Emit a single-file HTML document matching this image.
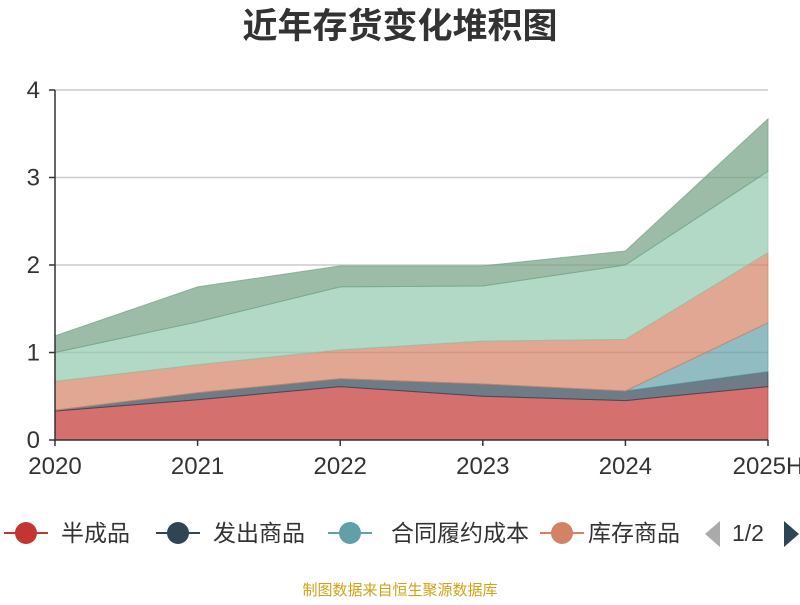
<!DOCTYPE html>
<html><head><meta charset="utf-8">
<style>
body{margin:0;background:#fff;width:800px;height:600px;overflow:hidden;font-family:"Liberation Sans","Noto Sans CJK SC",sans-serif;}
</style></head>
<body>
<svg id="chart" width="800" height="600" xmlns="http://www.w3.org/2000/svg" font-family="Liberation Sans, Noto Sans CJK SC, sans-serif">
<text x="400" y="38" text-anchor="middle" font-size="35" font-weight="bold" fill="#333">近年存货变化堆积图</text>
<text transform="translate(-4,115) rotate(-90)" text-anchor="middle" font-size="16" fill="#e53935">亿元</text>
<g id="grid"></g>
<g id="areas"></g>
<g id="axes"></g>
<g font-size="23" fill="#333">
  <g><line x1="4" y1="533" x2="48" y2="533" stroke="#c23531" stroke-width="2"/><circle cx="26" cy="533" r="11" fill="#c23531"/><text x="61" y="541">半成品</text></g>
  <g><line x1="156" y1="533" x2="200" y2="533" stroke="#2f4554" stroke-width="2"/><circle cx="178" cy="533" r="11" fill="#2f4554"/><text x="213" y="541">发出商品</text></g>
  <g><line x1="328" y1="533" x2="372" y2="533" stroke="#61a0a8" stroke-width="2"/><circle cx="350" cy="533" r="11" fill="#61a0a8"/><text x="391" y="541">合同履约成本</text></g>
  <g><line x1="540" y1="533" x2="584" y2="533" stroke="#d48265" stroke-width="2"/><circle cx="562" cy="533" r="11" fill="#d48265"/><svg x="588" y="515" width="95" height="34"><text x="0" y="26">库存商品</text></svg></g>
  <polygon points="720,521 720,547 705,534" fill="#aaa"/>
  <text x="732" y="541">1/2</text>
  <polygon points="784,521 784,547 799,534" fill="#2f4554"/>
</g>
<text x="400" y="595" text-anchor="middle" font-size="15" fill="#d4a017">制图数据来自恒生聚源数据库</text>
</svg>
<script>
const categories=["2020","2021","2022","2023","2024","2025H"];
const seriesNames=["半成品","发出商品","合同履约成本","库存商品","原材料","其他"];
const s1=[0.33,0.46,0.61,0.50,0.45,0.61];
const s2=[0.01,0.08,0.09,0.14,0.11,0.17];
const s3=[0,0,0,0,0,0.56];
const s4=[0.33,0.32,0.33,0.49,0.59,0.80];
const s5=[0.33,0.49,0.72,0.63,0.85,0.93];
const s6=[0.19,0.40,0.24,0.23,0.16,0.60];
const yTicks=[0,1,2,3,4];
const colors=["#c23531","#2f4554","#61a0a8","#d48265","#91c7ae","#749f83"];
const NS="http://www.w3.org/2000/svg";
const x0=55,x1=768,yb=440,yt=90,ymax=4;
const xs=i=>x0+(x1-x0)*i/(categories.length-1);
const ys=v=>yb-(yb-yt)*v/ymax;
const mk=(t,a,p)=>{const e=document.createElementNS(NS,t);for(const k in a)e.setAttribute(k,a[k]);p.appendChild(e);return e;};
const grid=document.getElementById('grid'),axes=document.getElementById('axes'),areas=document.getElementById('areas');
yTicks.forEach(t=>{
  if(t>0){const l=mk('line',{x1:x0,x2:x1,y1:ys(t),y2:ys(t),stroke:'#ccc','stroke-width':1.5},grid);
  
  }
  const tx=mk('text',{x:x0-15,y:ys(t)+8,'text-anchor':'end','font-size':24,fill:'#333'},axes);tx.textContent=t;
  
  
  mk('line',{x1:x0-6,x2:x0,y1:ys(t),y2:ys(t),stroke:'#333','stroke-width':1.5},axes);
});
const all=[s1,s2,s3,s4,s5,s6];let base=categories.map(()=>0);
all.forEach((s,k)=>{
  const top=base.map((b,i)=>b+s[i]);
  let d='M'+top.map((v,i)=>xs(i)+','+ys(v)).join(' L');
  for(let i=base.length-1;i>=0;i--)d+=' L'+xs(i)+','+ys(base[i]);
  const p=mk('path',{d:d+'Z',fill:colors[k],'fill-opacity':0.7,stroke:colors[k],'stroke-opacity':0.7,'stroke-width':1},areas);
  
  
  base=top;
});
mk('line',{x1:x0,x2:x0,y1:yt,y2:yb,stroke:'#333','stroke-width':1.5},axes);
mk('line',{x1:x0,x2:x1,y1:yb,y2:yb,stroke:'#333','stroke-width':1.5},axes);
categories.forEach((c,i)=>{
  mk('line',{x1:xs(i),x2:xs(i),y1:yb,y2:yb+6,stroke:'#333','stroke-width':1.5},axes);
  const t=mk('text',{x:xs(i),y:yb+34,'text-anchor':'middle','font-size':24,fill:'#333'},axes);t.textContent=c;
  
  
});
</script>
</body></html>
